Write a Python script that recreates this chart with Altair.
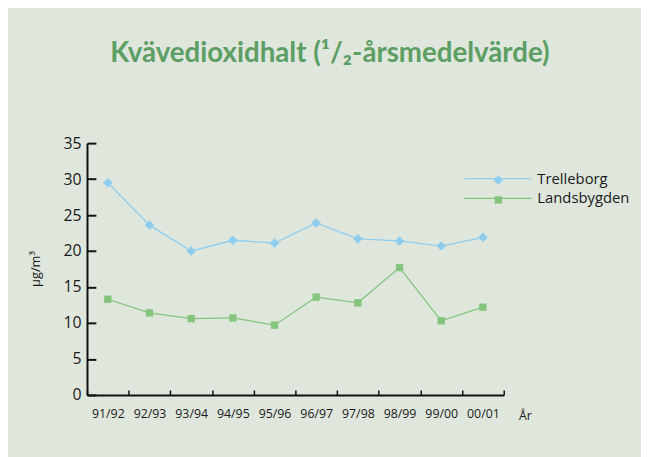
import json
import altair as alt
import pandas as pd

years = ["91/92", "92/93", "93/94", "94/95", "95/96", "96/97", "97/98", "98/99", "99/00", "00/01"]
trelleborg = [29.5, 23.6, 20.0, 21.5, 21.1, 23.9, 21.7, 21.4, 20.7, 21.9]
landsbygden = [13.3, 11.4, 10.6, 10.7, 9.7, 13.6, 12.8, 17.7, 10.3, 12.2]
series_names = ["Trelleborg", "Landsbygden"]
series_colors = ["#8fcdef", "#84c47d"]
y_ticks = [0, 5, 10, 15, 20, 25, 30, 35]

rows = []
for name, vals in zip(series_names, [trelleborg, landsbygden]):
    for yr, v in zip(years, vals):
        rows.append({"year": yr, "series": name, "value": v})
df = pd.DataFrame(rows)

FONT = "Open Sans"
W, H = 422, 255
years_js = json.dumps(years)
label_vals = [i + 0.5 for i in range(len(years))]
bound_vals = list(range(len(years) + 1))

base = alt.Chart(df).transform_calculate(
    xpos=f"indexof({years_js}, datum.year) + 0.5",
    series2="datum.series",
)

x_scale = alt.Scale(domain=[0, len(years)], nice=False, zero=False)
y_scale = alt.Scale(domain=[0, 35], nice=False)

x_main = alt.X(
    "xpos:Q",
    scale=x_scale,
    axis=alt.Axis(
        orient="bottom",
        values=label_vals,
        labelExpr=f"{years_js}[floor(datum.value)]",
        labelOverlap=False,
        labelFlush=False,
        labelFont=FONT,
        labelFontSize=12.5,
        labelColor="#1a1a1a",
        labelPadding=13,
        ticks=False,
        tickSize=0,
        domainColor="#111111",
        domainWidth=2,
        grid=False,
        title="År",
        titleFont=FONT,
        titleFontSize=12.5,
        titleFontWeight="normal",
        titleColor="#1a1a1a",
        titleX=437,
        titleY=25,
        titleAlign="left",
        titleBaseline="alphabetic",
    ),
)

y_main = alt.Y(
    "value:Q",
    scale=y_scale,
    axis=alt.Axis(
        orient="left",
        values=y_ticks,
        labelFont=FONT,
        labelFontSize=16,
        labelColor="#1a1a1a",
        labelPadding=6,
        ticks=False,
        tickSize=0,
        domainColor="#111111",
        domainWidth=2,
        grid=False,
        title="µg/m³",
        titleFont=FONT,
        titleFontSize=13,
        titleFontWeight="normal",
        titleColor="#1a1a1a",
        titleAngle=270,
        titleX=-52,
        titleY=127,
        titleAlign="center",
        titleBaseline="middle",
    ),
)

# tick-only axes moved onto the plot edges so their ticks point inward
x_ticks_axis = alt.X(
    "xpos:Q",
    scale=x_scale,
    axis=alt.Axis(
        orient="top",
        offset=-H,
        values=bound_vals,
        labels=False,
        domain=False,
        grid=False,
        ticks=True,
        tickSize=5,
        tickWidth=1.5,
        tickColor="#111111",
        title=None,
    ),
)

y_ticks_axis = alt.Y(
    "value:Q",
    scale=y_scale,
    axis=alt.Axis(
        orient="right",
        offset=-W,
        values=y_ticks,
        labels=False,
        domain=False,
        grid=False,
        ticks=True,
        tickSize=9,
        tickWidth=2,
        tickColor="#111111",
        title=None,
    ),
)

lines = base.mark_line(strokeWidth=1.3).encode(
    x=x_main,
    y=y_main,
    stroke=alt.Stroke(
        "series:N",
        scale=alt.Scale(domain=series_names, range=series_colors),
        legend=alt.Legend(
            title=None,
            orient="none",
            legendX=406.5,
            legendY=26.5,
            padding=0,
            symbolType="M-4,0H4",
            symbolSize=289,
            symbolStrokeWidth=1.3,
            labelOffset=30.5,
            labelFont=FONT,
            labelFontSize=15,
            labelColor="#1a1a1a",
            rowPadding=2,
        ),
    ),
)

points = base.mark_point(filled=True, opacity=1, strokeWidth=0).encode(
    x=x_ticks_axis,
    y=y_ticks_axis,
    fill=alt.Fill(
        "series2:N",
        sort="descending",
        scale=alt.Scale(range=series_colors),
        legend=alt.Legend(
            title=None,
            orient="none",
            legendX=409,
            legendY=30,
            padding=0,
            labelExpr="''",
            labelFontSize=15,
            rowPadding=4,
        ),
    ),
    shape=alt.Shape("series2:N", sort="descending", scale=alt.Scale(range=["diamond", "square"])),
    size=alt.Size("series2:N", sort="descending", scale=alt.Scale(range=[95, 55])),
)

chart = alt.layer(lines, points).resolve_axis(
    x="independent", y="independent"
).properties(
    width=W,
    height=H,
    autosize=alt.AutoSizeParams(type="none"),
    padding={"left": 80, "top": 134, "right": 139, "bottom": 60},
    background="#dfe7dd",
    title=alt.TitleParams(
        "Kvävedioxidhalt (¹/₂-årsmedelvärde)",
        font="Lato",
        fontSize=28,
        fontWeight="bold",
        color="#5c9e63",
        anchor="middle",
        baseline="alphabetic",
        offset=46,
        dx=35,
    ),
).configure_view(stroke=None)

chart.save("out.html", embed_options={"renderer": "svg", "actions": False})
